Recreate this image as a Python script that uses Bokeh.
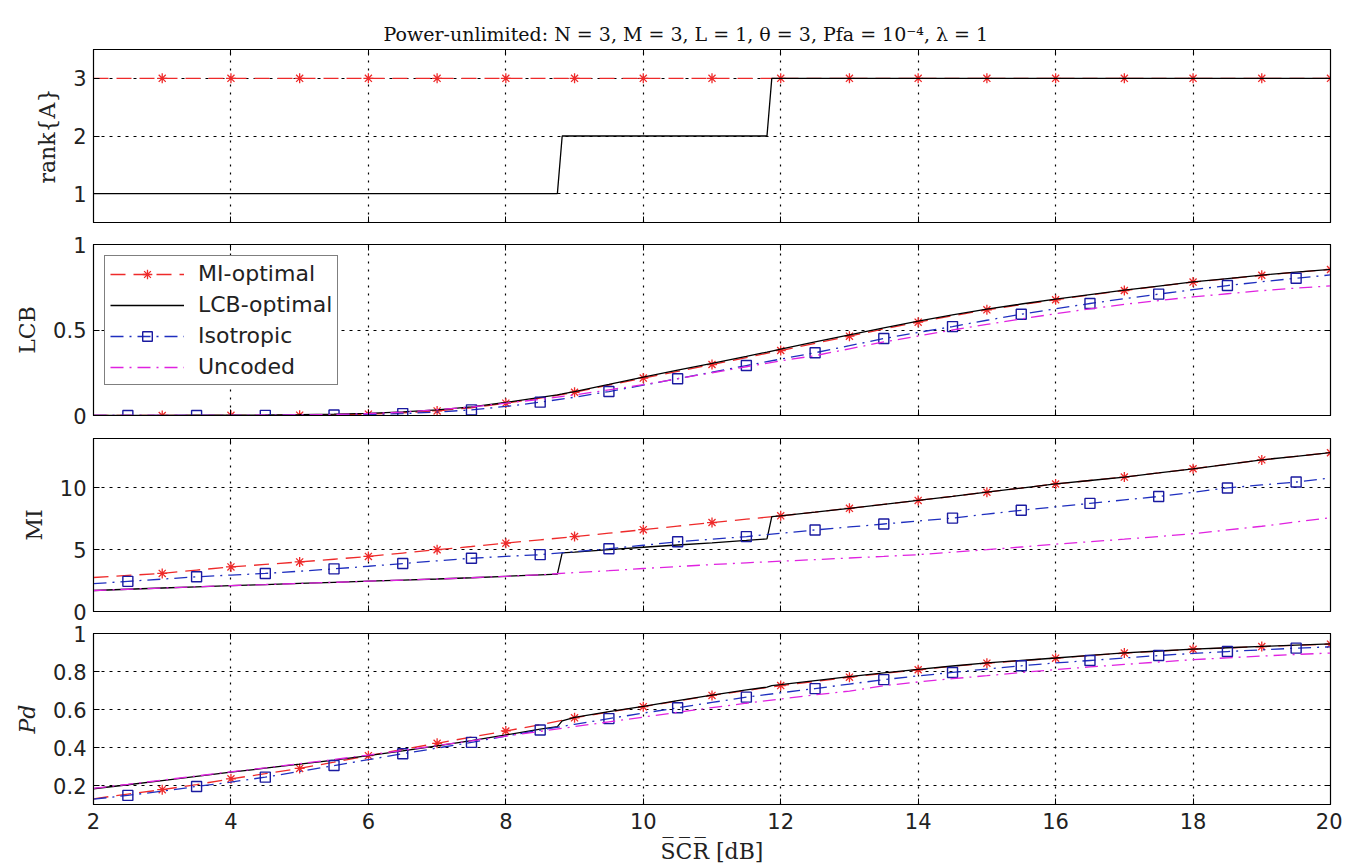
from bokeh.plotting import figure
from bokeh.layouts import column
from bokeh.models import (LinearAxis, FixedTicker, Legend, LegendItem, Range1d,
                          CustomJSTickFormatter)
from bokeh.embed import file_html
from bokeh.resources import INLINE

TITLE = "Power-unlimited: N = 3, M = 3, L = 1, θ = 3, Pfa = 10⁻⁴, λ = 1"
SERIES = ["MI-optimal", "LCB-optimal", "Isotropic", "Uncoded"]

# SCR grid (dB) shared by MI-optimal, Isotropic and Uncoded
X = [2.0, 2.5, 3.0, 3.5, 4.0, 4.5, 5.0, 5.5, 6.0, 6.5, 7.0, 7.5, 8.0, 8.5, 9.0, 9.5,
     10.0, 10.5, 11.0, 11.5, 12.0, 12.5, 13.0, 13.5, 14.0, 14.5, 15.0, 15.5, 16.0,
     16.5, 17.0, 17.5, 18.0, 18.5, 19.0, 19.5, 20.0]
# SCR grid for LCB-optimal (includes the rank switching points)
X_LCB = [2.0, 2.5, 3.0, 3.5, 4.0, 4.5, 5.0, 5.5, 6.0, 6.5, 7.0, 7.5, 8.0, 8.5, 8.75, 8.82,
         9.0, 9.5, 10.0, 10.5, 11.0, 11.5, 11.8, 11.87, 12.0, 12.5, 13.0, 13.5, 14.0,
         14.5, 15.0, 15.5, 16.0, 16.5, 17.0, 17.5, 18.0, 18.5, 19.0, 19.5, 20.0]

# rank{A}
RANK_MI = [3, 3, 3, 3, 3, 3, 3, 3, 3, 3, 3, 3, 3, 3, 3, 3, 3, 3, 3, 3, 3, 3, 3, 3, 3,
           3, 3, 3, 3, 3, 3, 3, 3, 3, 3, 3, 3]
RANK_LCB = [1, 1, 1, 1, 1, 1, 1, 1, 1, 1, 1, 1, 1, 1, 1, 2, 2, 2, 2, 2, 2, 2, 2, 3, 3,
            3, 3, 3, 3, 3, 3, 3, 3, 3, 3, 3, 3, 3, 3, 3, 3]

# LCB
LCB_MI = [0.000, 0.000, 0.000, 0.000, 0.001, 0.001, 0.002, 0.004, 0.008, 0.015, 0.027,
          0.045, 0.072, 0.101, 0.136, 0.178, 0.219, 0.258, 0.298, 0.339, 0.380, 0.422,
          0.464, 0.506, 0.546, 0.583, 0.618, 0.648, 0.677, 0.705, 0.731, 0.756, 0.780,
          0.800, 0.820, 0.838, 0.854]
LCB_LCB = [0.001, 0.001, 0.001, 0.002, 0.002, 0.003, 0.005, 0.008, 0.013, 0.021, 0.033,
           0.051, 0.076, 0.106, 0.121, 0.126, 0.140, 0.182, 0.225, 0.265, 0.305, 0.346,
           0.371, 0.377, 0.388, 0.430, 0.472, 0.513, 0.552, 0.588, 0.622, 0.652, 0.680,
           0.707, 0.733, 0.757, 0.781, 0.801, 0.821, 0.839, 0.855]
LCB_ISO = [0.000, 0.000, 0.000, 0.000, 0.000, 0.001, 0.002, 0.003, 0.006, 0.011, 0.020,
           0.033, 0.053, 0.078, 0.107, 0.140, 0.177, 0.215, 0.253, 0.292, 0.330, 0.367,
           0.408, 0.450, 0.486, 0.520, 0.557, 0.592, 0.624, 0.655, 0.683, 0.710, 0.736,
           0.760, 0.782, 0.803, 0.822]
LCB_UNC = [0.000, 0.000, 0.000, 0.000, 0.001, 0.002, 0.003, 0.006, 0.011, 0.020, 0.034,
           0.050, 0.072, 0.095, 0.120, 0.150, 0.180, 0.215, 0.250, 0.285, 0.320, 0.350,
           0.390, 0.430, 0.465, 0.500, 0.533, 0.565, 0.595, 0.624, 0.650, 0.672, 0.694,
           0.712, 0.730, 0.745, 0.758]

# MI
MI_MI = [2.75, 2.92, 3.08, 3.35, 3.61, 3.81, 4.01, 4.23, 4.46, 4.73, 5.00, 5.26, 5.53,
         5.80, 6.06, 6.34, 6.62, 6.91, 7.20, 7.47, 7.74, 8.04, 8.35, 8.67, 8.99, 9.32,
         9.66, 9.99, 10.32, 10.60, 10.88, 11.21, 11.55, 11.91, 12.27, 12.56, 12.85]
MI_LCB = [1.70, 1.80, 1.90, 2.00, 2.10, 2.18, 2.27, 2.36, 2.45, 2.54, 2.63, 2.73, 2.85,
          2.97, 3.03, 4.75, 4.80, 5.00, 5.20, 5.38, 5.56, 5.75, 5.88, 7.68, 7.74, 8.04,
          8.35, 8.67, 8.99, 9.32, 9.66, 9.99, 10.32, 10.60, 10.88, 11.21, 11.55, 11.91,
          12.27, 12.56, 12.85]
MI_ISO = [2.25, 2.44, 2.62, 2.81, 2.95, 3.08, 3.26, 3.45, 3.66, 3.88, 4.10, 4.31, 4.46,
          4.60, 4.84, 5.08, 5.36, 5.64, 5.85, 6.06, 6.33, 6.60, 6.84, 7.08, 7.32, 7.56,
          7.88, 8.19, 8.47, 8.75, 9.03, 9.31, 9.65, 10.00, 10.24, 10.48, 10.80]
MI_UNC = [1.70, 1.80, 1.90, 2.00, 2.10, 2.18, 2.27, 2.36, 2.45, 2.54, 2.63, 2.73, 2.85,
          2.97, 3.15, 3.30, 3.48, 3.64, 3.80, 3.94, 4.07, 4.20, 4.33, 4.46, 4.60, 4.80,
          5.00, 5.22, 5.45, 5.65, 5.85, 6.07, 6.30, 6.60, 6.90, 7.25, 7.60]

# Pd
PD_MI = [0.130, 0.155, 0.178, 0.205, 0.235, 0.262, 0.290, 0.323, 0.357, 0.390, 0.422,
         0.455, 0.487, 0.520, 0.556, 0.587, 0.615, 0.645, 0.674, 0.700, 0.726, 0.748,
         0.770, 0.790, 0.809, 0.827, 0.844, 0.857, 0.870, 0.884, 0.897, 0.907, 0.917,
         0.924, 0.931, 0.938, 0.944]
PD_LCB = [0.183, 0.204, 0.226, 0.248, 0.270, 0.291, 0.312, 0.334, 0.357, 0.382, 0.408,
          0.436, 0.466, 0.497, 0.510, 0.540, 0.558, 0.589, 0.617, 0.647, 0.676, 0.703,
          0.718, 0.726, 0.731, 0.752, 0.773, 0.793, 0.811, 0.829, 0.845, 0.858, 0.871,
          0.885, 0.898, 0.908, 0.918, 0.925, 0.932, 0.939, 0.945]
PD_ISO = [0.128, 0.148, 0.170, 0.195, 0.218, 0.244, 0.274, 0.305, 0.336, 0.367, 0.397,
          0.427, 0.460, 0.492, 0.522, 0.552, 0.581, 0.609, 0.637, 0.665, 0.688, 0.710,
          0.734, 0.757, 0.777, 0.795, 0.813, 0.830, 0.845, 0.858, 0.871, 0.884, 0.895,
          0.905, 0.914, 0.923, 0.930]
PD_UNC = [0.185, 0.206, 0.228, 0.250, 0.272, 0.293, 0.315, 0.337, 0.360, 0.385, 0.410,
          0.435, 0.460, 0.485, 0.510, 0.535, 0.560, 0.585, 0.610, 0.633, 0.655, 0.677,
          0.697, 0.725, 0.745, 0.762, 0.778, 0.795, 0.810, 0.824, 0.837, 0.850, 0.862,
          0.872, 0.881, 0.890, 0.897]

X_TICKS = [2, 4, 6, 8, 10, 12, 14, 16, 18, 20]

PANELS = [
    dict(ylabel="rank{A}", yr=(0.5, 3.5), yt=[1, 2, 3],
         data=[RANK_MI, RANK_LCB, None, None]),
    dict(ylabel="LCB", yr=(0, 1), yt=[0, 0.5, 1],
         data=[LCB_MI, LCB_LCB, LCB_ISO, LCB_UNC]),
    dict(ylabel="MI", yr=(0, 14), yt=[0, 5, 10],
         data=[MI_MI, MI_LCB, MI_ISO, MI_UNC]),
    dict(ylabel="Pd", yr=(0.1, 1), yt=[0.2, 0.4, 0.6, 0.8, 1],
         data=[PD_MI, PD_LCB, PD_ISO, PD_UNC]),
]

RED = "#ee2a2a"
BLUE = "#1f2fbf"
MAG = "#e022e0"
TICK_FONT = "DejaVu Sans"
LABEL_FONT = "DejaVu Serif"

W = 1342
FRAME_H = [173, 171, 173, 173]
TOPS = [49, 22, 22, 22]
BOTTOMS = [24, 24, 24, 60]
OVERLAP = [0, 24, 23, 24]

EMPTY = CustomJSTickFormatter(code="return ''")

figs = []
for i, pan in enumerate(PANELS):
    last = i == 3
    h = TOPS[i] + FRAME_H[i] + BOTTOMS[i]
    p = figure(width=W, height=h, output_backend="svg", toolbar_location=None,
               x_range=Range1d(2, 20), y_range=Range1d(*pan["yr"]),
               min_border_left=93, min_border_right=12,
               min_border_top=TOPS[i], min_border_bottom=BOTTOMS[i],
               background_fill_color="white", border_fill_alpha=0,
               margin=(-OVERLAP[i], 0, 0, 0))
    p.outline_line_color = "black"
    p.outline_line_width = 1.2
    p.outline_line_alpha = 1

    for ax in p.xaxis:
        ax.ticker = FixedTicker(ticks=X_TICKS)
        ax.major_tick_in = 6
        ax.major_tick_out = 0
        ax.minor_tick_line_color = None
        ax.axis_line_color = "black"
        ax.major_tick_line_color = "black"
        ax.major_label_text_font = TICK_FONT
        ax.major_label_text_font_size = "21px"
        ax.major_label_text_color = "#222222"
        if last:
            ax.major_label_standoff = 8
            ax.axis_label = "S\u0305C\u0305R\u0305 [dB]"
            ax.axis_label_text_font = LABEL_FONT
            ax.axis_label_text_font_size = "22px"
            ax.axis_label_text_font_style = "normal"
            ax.axis_label_standoff = 7
            ax.axis_label_text_color = "#222222"
        else:
            ax.formatter = EMPTY
            ax.major_label_standoff = 0
    for ax in p.yaxis:
        ax.ticker = FixedTicker(ticks=pan["yt"])
        ax.major_tick_in = 6
        ax.major_tick_out = 0
        ax.minor_tick_line_color = None
        ax.axis_line_color = "black"
        ax.major_tick_line_color = "black"
        ax.major_label_text_font = TICK_FONT
        ax.major_label_text_font_size = "21px"
        ax.major_label_text_color = "#222222"
        ax.major_label_standoff = 7
        ax.axis_label = pan["ylabel"]
        ax.axis_label_text_font = LABEL_FONT
        ax.axis_label_text_font_size = "22px"
        ax.axis_label_text_font_style = "italic" if pan["ylabel"] == "Pd" else "normal"
        ax.axis_label_standoff = 10
        ax.axis_label_text_color = "#222222"

    top_ax = LinearAxis(ticker=FixedTicker(ticks=X_TICKS), major_tick_in=6, major_tick_out=0,
                        formatter=EMPTY, major_label_standoff=0,
                        major_label_text_font_size="1px",
                        minor_tick_line_color=None, axis_line_color="black")
    right_ax = LinearAxis(ticker=FixedTicker(ticks=pan["yt"]), major_tick_in=6, major_tick_out=0,
                          formatter=EMPTY, major_label_standoff=0,
                          major_label_text_font_size="1px",
                          minor_tick_line_color=None, axis_line_color="black")
    p.add_layout(top_ax, "above")
    p.add_layout(right_ax, "right")

    p.xgrid.ticker = FixedTicker(ticks=X_TICKS)
    p.ygrid.ticker = FixedTicker(ticks=pan["yt"])
    p.xgrid.grid_line_color = "black"
    p.xgrid.grid_line_dash = "2 6"
    p.xgrid.grid_line_width = 1.2
    p.ygrid.grid_line_color = "black"
    p.ygrid.grid_line_dash = "3 5"
    p.ygrid.grid_line_width = 1.2

    d_mi, d_lcb, d_iso, d_unc = pan["data"]
    items = []
    r1 = p.line(X, d_mi, line_color=RED, line_width=1.3, line_dash="15 8")
    r1m = p.scatter(X[2::2], d_mi[2::2], marker="asterisk", size=10, line_color=RED,
                    line_width=1.3)
    items.append(LegendItem(label=SERIES[0], renderers=[r1, r1m]))
    r2 = p.line(X_LCB, d_lcb, line_color="black", line_width=1.3)
    items.append(LegendItem(label=SERIES[1], renderers=[r2]))
    if d_iso is not None:
        r3 = p.line(X, d_iso, line_color=BLUE, line_width=1.3, line_dash="13 6 2 6")
        r3m = p.scatter(X[1::2], d_iso[1::2], marker="square", size=10, line_color="#1a1aa0",
                        fill_color=None, line_width=1.4)
        items.append(LegendItem(label=SERIES[2], renderers=[r3, r3m]))
        r4 = p.line(X, d_unc, line_color=MAG, line_width=1.3, line_dash="13 6 2 6")
        items.append(LegendItem(label=SERIES[3], renderers=[r4]))

    if i == 0:
        p.title.text = TITLE
        p.title.align = "left"
        p.title.offset = 290
        p.title.text_font = LABEL_FONT
        p.title.text_font_size = "19px"
        p.title.text_font_style = "normal"
        p.title.text_color = "#111111"

    if i == 1:
        leg = Legend(items=items, location="top_left", margin=11, padding=5,
                     spacing=6, glyph_width=74, glyph_height=24, label_height=24,
                     label_standoff=14, label_text_font=TICK_FONT,
                     label_text_font_size="22px", label_text_color="#222222",
                     border_line_color="black", border_line_width=1.2,
                     background_fill_color="white", background_fill_alpha=1)
        p.add_layout(leg)

    figs.append(p)

layout = column(*figs, spacing=0)
open("out.html", "w").write(file_html(layout, INLINE))
